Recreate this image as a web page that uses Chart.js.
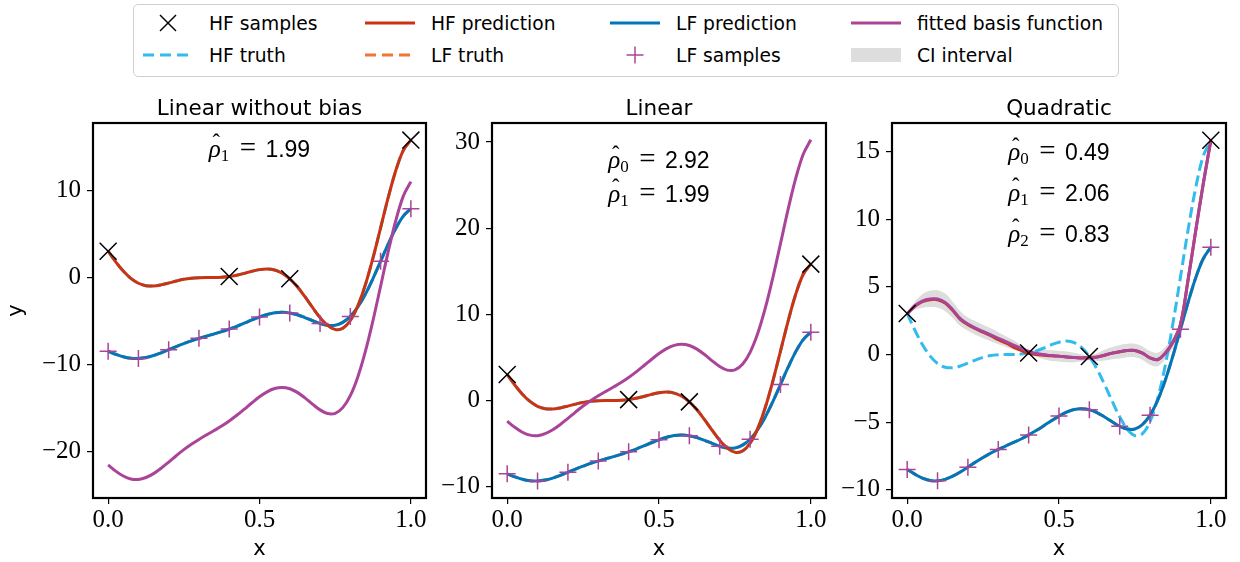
<!DOCTYPE html>
<html>
<head>
<meta charset="utf-8">
<script src="https://cdn.jsdelivr.net/npm/chart.js@4.4.1/dist/chart.umd.min.js"></script>
<style>
    body { margin: 0; width: 1240px; height: 562px; background: #fff; position: relative; overflow: hidden; font-family: "DejaVu Sans", sans-serif; }
    .panel { position: absolute; top: 80px; height: 482px; }
    .legend-box { position: absolute; left: 133px; top: 4px; width: 984px; height: 71px; border: 1.3px solid #d0d0d0; border-radius: 5px; background: #fff; }
    .lg-item { position: absolute; display: flex; align-items: center; height: 24px; font-size: 18.7px; color: #000; white-space: nowrap; }
    .lg-item svg { margin-right: 16px; }
    .ptitle { position: absolute; transform: translate(-50%, -50%); white-space: nowrap; font-size: 21.5px; color: #000; }
    .note { position: absolute; transform: translate(-50%, -50%); white-space: nowrap; color: #000; font-size: 25px; font-family: "Liberation Serif", serif; }
    .rho { position: relative; font-style: italic; }
    .hat { position: absolute; left: 0.16em; top: -0.2em; font-style: normal; font-size: 0.9em; }
    .note sub { font-size: 17px; vertical-align: -0.28em; line-height: 0; }
    .eq { margin: 0 0.32em 0 0.36em; font-size: 29px; }
    .num { font-family: "Liberation Sans", sans-serif; font-size: 23px; }
</style>
</head>
<body>
<div class="legend-box"></div>
<div id="legend"></div>
<div class="panel" style="left:0px;width:440px"><canvas id="c1"></canvas></div>
<div class="panel" style="left:430px;width:410px"><canvas id="c2"></canvas></div>
<div class="panel" style="left:830px;width:410px"><canvas id="c3"></canvas></div>
<div id="titles"></div>
<div id="notes"></div>
<script>
// shared x grid
const xs = [0, 0.025, 0.05, 0.075, 0.1, 0.125, 0.15, 0.175, 0.2, 0.225, 0.25, 0.275, 0.3, 0.325, 0.35, 0.375, 0.4,
    0.425, 0.45, 0.475, 0.5, 0.525, 0.55, 0.575, 0.6, 0.625, 0.65, 0.675, 0.7, 0.725, 0.75, 0.775, 0.8, 0.825, 0.85,
    0.875, 0.9, 0.925, 0.95, 0.975, 1];

const hfTruth = [3.03, 1.81, 0.74, -0.10, -0.66, -0.94, -0.98, -0.85, -0.64, -0.41, -0.21, -0.08, -0.02, 0.00, 0.00,
    0.03, 0.11, 0.27, 0.48, 0.72, 0.91, 0.99, 0.87, 0.50, -0.15, -1.07, -2.21, -3.44, -4.61, -5.52, -5.99, -5.85,
    -4.95, -3.25, -0.80, 2.27, 5.71, 9.19, 12.30, 14.65, 15.83];
const lfTruth = [-8.49, -8.84, -9.13, -9.30, -9.33, -9.22, -8.99, -8.68, -8.32, -7.95, -7.61, -7.29, -7.01, -6.75,
    -6.50, -6.24, -5.94, -5.62, -5.26, -4.89, -4.55, -4.26, -4.06, -4.00, -4.08, -4.29, -4.61, -4.97, -5.30, -5.51,
    -5.50, -5.17, -4.48, -3.38, -1.90, -0.11, 1.86, 3.84, 5.65, 7.07, 7.92];

// predictions (panels 1-2 sit on top of the truth curves)
const hfPred12 = [3.03, 1.81, 0.74, -0.10, -0.66, -0.94, -0.98, -0.85, -0.64, -0.41, -0.21, -0.08, -0.02, 0.00, 0.00,
    0.03, 0.11, 0.27, 0.48, 0.72, 0.91, 0.99, 0.87, 0.50, -0.15, -1.07, -2.21, -3.44, -4.61, -5.52, -5.99, -5.85,
    -4.95, -3.25, -0.80, 2.27, 5.71, 9.19, 12.30, 14.65, 15.83];
const lfPred = [-8.49, -8.84, -9.13, -9.30, -9.33, -9.22, -8.99, -8.68, -8.32, -7.95, -7.61, -7.29, -7.01, -6.75,
    -6.50, -6.24, -5.94, -5.62, -5.26, -4.89, -4.55, -4.26, -4.06, -4.00, -4.08, -4.29, -4.61, -4.97, -5.30, -5.51,
    -5.50, -5.17, -4.48, -3.38, -1.90, -0.11, 1.86, 3.84, 5.65, 7.07, 7.92];

// fitted basis functions
const basis1 = [-21.59, -22.30, -22.87, -23.21, -23.26, -23.04, -22.59, -21.97, -21.26, -20.53, -19.83, -19.21, -18.65,
    -18.13, -17.63, -17.11, -16.52, -15.87, -15.16, -14.43, -13.74, -13.17, -12.79, -12.66, -12.81, -13.23, -13.86,
    -14.59, -15.25, -15.67, -15.64, -14.99, -13.61, -11.42, -8.48, -4.93, -1.01, 2.95, 6.54, 9.38, 11.05];
const basis2 = [-2.39, -3.10, -3.67, -4.01, -4.07, -3.84, -3.39, -2.77, -2.06, -1.33, -0.63, -0.01, 0.55, 1.07, 1.57,
    2.09, 2.68, 3.33, 4.04, 4.77, 5.46, 6.03, 6.41, 6.54, 6.39, 5.97, 5.34, 4.61, 3.95, 3.53, 3.56, 4.21, 5.60, 7.78,
    10.72, 14.27, 18.19, 22.15, 25.74, 28.58, 30.25];
const basis3 = [3.0, 3.6, 3.95, 4.1, 4.1, 3.85, 3.3, 2.65, 2.25, 1.95, 1.7, 1.45, 1.2, 0.95, 0.7, 0.45, 0.22, 0.08, 0.0,
    -0.08, -0.12, -0.18, -0.22, -0.25, -0.25, -0.2, -0.05, 0.1, 0.2, 0.3, 0.3, 0.1, -0.25, -0.37, 0.1, 0.9, 2.2, 5.5,
    9.1, 12.6, 15.8];
const hfPred3 = [3.0, 3.55, 3.9, 4.05, 4.05, 3.8, 3.25, 2.6, 2.2, 1.9, 1.65, 1.4, 1.1, 0.85, 0.55, 0.3, 0.08, 0.0,
    -0.05, -0.1, -0.12, -0.18, -0.22, -0.25, -0.2, -0.18, -0.05, 0.1, 0.2, 0.3, 0.3, 0.1, -0.25, -0.37, 0.1, 0.9, 2.2,
    5.5, 9.1, 12.6, 15.8];
const ciHalf3 = [0, 0.3, 0.5, 0.6, 0.65, 0.65, 0.6, 0.55, 0.5, 0.5, 0.5, 0.48, 0.45, 0.4, 0.35, 0.25, 0.15, 0.25, 0.35,
    0.4, 0.4, 0.4, 0.35, 0.25, 0.15, 0.3, 0.4, 0.45, 0.5, 0.5, 0.5, 0.5, 0.5, 0.5, 0.45, 0.4, 0.4, 0.35, 0.3, 0.2, 0];

// samples
const hfSampleX = [0, 0.4, 0.6, 1];
const hfSampleY = [3.03, 0.11, -0.15, 15.83];
const lfSampleX = [0, 0.1, 0.2, 0.3, 0.4, 0.5, 0.6, 0.7, 0.8, 0.9, 1];
const lfSampleY = [-8.49, -9.33, -8.32, -7.01, -5.94, -4.55, -4.08, -5.30, -4.48, 1.86, 7.92];

// axes
const xTicks = [0, 0.5, 1];
const yTicks1 = [-20, -10, 0, 10];
const yTicks2 = [-10, 0, 10, 20, 30];
const yTicks3 = [-10, -5, 0, 5, 10, 15];
const titles = ['Linear without bias', 'Linear', 'Quadratic'];
const titleCenters = [259.5, 659, 1059];

const C = {
    red: '#CC3311', blue: '#0077BB', purple: '#AA4499',
    cyan: '#33BBEE', orange: '#EE7733', ci: '#DDDDDD'
};

const pts = (xv, yv) => xv.map((x, i) => ({ x, y: yv[i] }));

function lineDs(label, ys, color, order, dash) {
    return {
        label, data: pts(xs, ys), showLine: true, borderColor: color, borderWidth: 3,
        borderDash: dash || [], pointRadius: 0, tension: 0.35, order
    };
}

function sampleDs() {
    return [
        { label: 'HF samples', data: pts(hfSampleX, hfSampleY), pointStyle: 'crossRot', pointRadius: 12,
          borderColor: '#000', borderWidth: 1.5, order: 1 },
        { label: 'LF samples', data: pts(lfSampleX, lfSampleY), pointStyle: 'cross', pointRadius: 8.5,
          borderColor: C.purple, borderWidth: 1.5, order: 2 }
    ];
}

const frame = {
    id: 'frame',
    afterDatasetsDraw(chart) {
        const { ctx, chartArea: a } = chart;
        ctx.save();
        ctx.strokeStyle = '#000';
        ctx.lineWidth = 2.2;
        ctx.strokeRect(a.left, a.top, a.right - a.left, a.bottom - a.top);
        ctx.restore();
    }
};

const serif = { family: 'Liberation Serif', size: 25 };

function makePanel(id, datasets, yMin, yMax, yTicks, yWidth, yTitle) {
    new Chart(document.getElementById(id), {
        type: 'scatter',
        data: { datasets },
        options: {
            responsive: true, maintainAspectRatio: false, animation: false,
            layout: { padding: { left: 0, right: 14, top: 43, bottom: 0 } },
            plugins: { legend: { display: false }, tooltip: { enabled: false } },
            scales: {
                x: {
                    type: 'linear', min: -0.05, max: 1.05,
                    afterBuildTicks: s => { s.ticks = xTicks.map(v => ({ value: v })); },
                    afterFit: s => { s.height = 64; },
                    ticks: { color: '#000', font: serif, padding: 1, maxRotation: 0,
                             callback: v => v.toFixed(1) },
                    grid: { drawOnChartArea: false, color: '#000', lineWidth: 1.2, tickLength: 6 },
                    border: { display: false },
                    title: { display: true, text: 'x', color: '#000',
                             font: { family: 'DejaVu Sans', size: 21 }, padding: { top: 0, bottom: 0 } }
                },
                y: {
                    type: 'linear', min: yMin, max: yMax,
                    afterBuildTicks: s => { s.ticks = yTicks.map(v => ({ value: v })); },
                    afterFit: s => { s.width = yWidth; },
                    ticks: { color: '#000', font: serif, padding: 6,
                             callback: v => String(v).replace('-', '\u2212') },
                    grid: { drawOnChartArea: false, color: '#000', lineWidth: 1.2, tickLength: 6 },
                    border: { display: false },
                    title: { display: !!yTitle, text: yTitle || '', color: '#000',
                             font: { family: 'DejaVu Sans', size: 21 }, padding: { top: 4, bottom: 0 } }
                }
            }
        },
        plugins: [frame]
    });
}

// panel 1: linear without bias
makePanel('c1', [
    lineDs('LF truth', lfTruth, C.orange, 8, [11, 5]),
    lineDs('HF truth', hfTruth, C.cyan, 7, [11, 5]),
    lineDs('LF prediction', lfPred, C.blue, 6),
    lineDs('HF prediction', hfPred12, C.red, 5),
    lineDs('fitted basis function', basis1, C.purple, 4),
    ...sampleDs()
], -25.4, 17.8, yTicks1, 93, 'y');

// panel 2: linear
makePanel('c2', [
    lineDs('LF truth', lfTruth, C.orange, 8, [11, 5]),
    lineDs('HF truth', hfTruth, C.cyan, 7, [11, 5]),
    lineDs('LF prediction', lfPred, C.blue, 6),
    lineDs('HF prediction', hfPred12, C.red, 5),
    lineDs('fitted basis function', basis2, C.purple, 4),
    ...sampleDs()
], -11.3, 32.2, yTicks2, 62);

// panel 3: quadratic, with CI band
const ciUp = basis3.map((v, i) => v + ciHalf3[i]);
const ciLo = basis3.map((v, i) => v - ciHalf3[i]);
makePanel('c3', [
    { label: 'CI upper', data: pts(xs, ciUp), showLine: true, borderWidth: 0, pointRadius: 0, tension: 0.35, order: 9 },
    { label: 'CI interval', data: pts(xs, ciLo), showLine: true, borderWidth: 0, pointRadius: 0, tension: 0.35,
      fill: '-1', backgroundColor: C.ci, order: 9 },
    lineDs('LF truth', lfTruth, C.orange, 8, [11, 5]),
    lineDs('HF truth', hfTruth, C.cyan, 7, [11, 5]),
    lineDs('LF prediction', lfPred, C.blue, 6),
    lineDs('HF prediction', hfPred3, C.red, 5),
    lineDs('fitted basis function', basis3, C.purple, 4),
    ...sampleDs()
], -10.6, 17.1, yTicks3, 62);

// panel titles, centred over each plot area
document.getElementById('titles').innerHTML = titles.map((t, i) =>
    `<div class="ptitle" style="left:${titleCenters[i]}px;top:106.7px">${t}</div>`).join('');

// legend (matplotlib ncol=4, filled column by column)
const legendItems = [
    { label: 'HF samples', kind: 'x', color: '#000' },
    { label: 'HF truth', kind: 'dash', color: C.cyan },
    { label: 'HF prediction', kind: 'line', color: C.red },
    { label: 'LF truth', kind: 'dash', color: C.orange },
    { label: 'LF prediction', kind: 'line', color: C.blue },
    { label: 'LF samples', kind: 'plus', color: C.purple },
    { label: 'fitted basis function', kind: 'line', color: C.purple },
    { label: 'CI interval', kind: 'patch', color: C.ci }
];
const colLeft = [143, 365, 610, 851];
const rowTop = [11, 43];

function handle(kind, color) {
    const s = {
        x: `<line x1="17" y1="2" x2="33" y2="18" stroke="${color}" stroke-width="1.5"/><line x1="33" y1="2" x2="17" y2="18" stroke="${color}" stroke-width="1.5"/>`,
        plus: `<line x1="25" y1="1.5" x2="25" y2="18.5" stroke="${color}" stroke-width="1.5"/><line x1="16.5" y1="10" x2="33.5" y2="10" stroke="${color}" stroke-width="1.5"/>`,
        line: `<line x1="0" y1="10" x2="50" y2="10" stroke="${color}" stroke-width="3"/>`,
        dash: `<line x1="0" y1="10" x2="50" y2="10" stroke="${color}" stroke-width="3" stroke-dasharray="11 6"/>`,
        patch: `<rect x="0" y="3" width="50" height="14" fill="${color}"/>`
    }[kind];
    return `<svg width="50" height="20" viewBox="0 0 50 20">${s}</svg>`;
}

document.getElementById('legend').innerHTML = legendItems.map((it, i) => `
    <div class="lg-item" style="left:${colLeft[Math.floor(i / 2)]}px;top:${rowTop[i % 2]}px">
        ${handle(it.kind, it.color)}<span>${it.label}</span>
    </div>`).join('');

// coefficient annotations
const notes = [
    { cx: 259.5, cy: 146.7, sub: '1', val: '1.99' },
    { cx: 659, cy: 158.3, sub: '0', val: '2.92' },
    { cx: 659, cy: 191.7, sub: '1', val: '1.99' },
    { cx: 1059, cy: 150, sub: '0', val: '0.49' },
    { cx: 1059, cy: 190.8, sub: '1', val: '2.06' },
    { cx: 1059, cy: 231.7, sub: '2', val: '0.83' }
];
document.getElementById('notes').innerHTML = notes.map(n => `
    <div class="note" style="left:${n.cx}px;top:${n.cy}px"><span class="rho">ρ<span class="hat">ˆ</span></span><sub>${n.sub}</sub><span class="eq">=</span><span class="num">${n.val}</span></div>`).join('');
</script>
</body>
</html>
